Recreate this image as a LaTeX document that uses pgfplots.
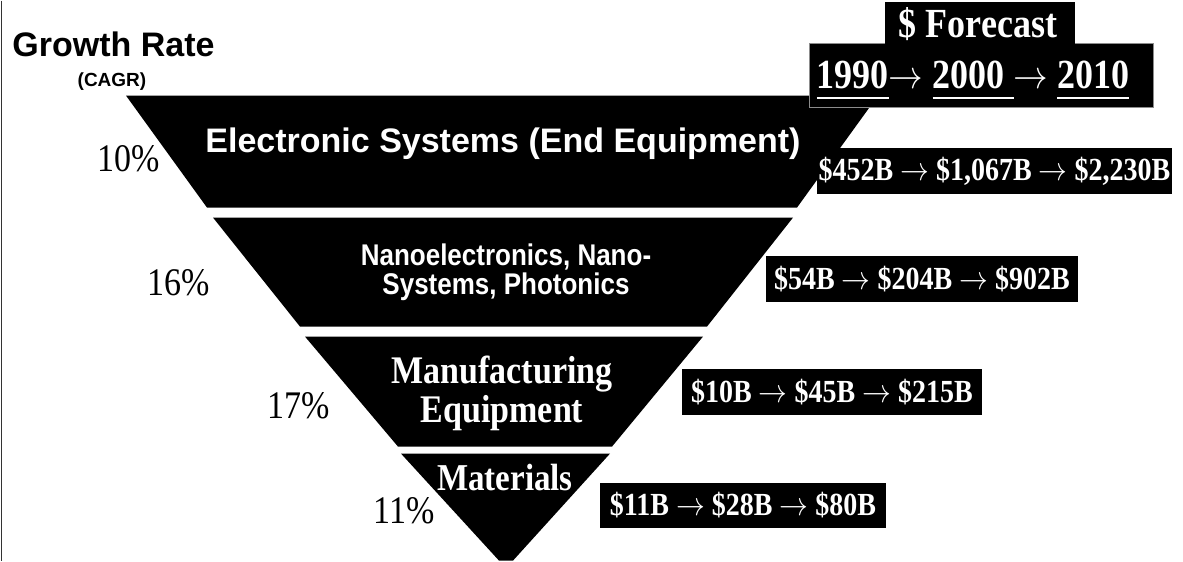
\documentclass[border=0pt]{standalone}
\usepackage{pgfplots}
\pgfplotsset{compat=1.18}
\usepackage{fontspec}
\setmainfont{Liberation Serif}
\newfontfamily\arial{Liberation Sans}
\newcommand\fs[1]{\fontsize{#1}{1.2\dimexpr#1\relax}\selectfont}
\newcommand\ul[1]{\setbox0=\hbox{#1}\rlap{\rule[-4.5pt]{\wd0}{0.9pt}}\box0}
\newcommand\tall[1]{\scalebox{1}[1.15]{#1}}
\begin{document}
\begin{tikzpicture}
\begin{axis}[
  scale only axis, width=591.5pt, height=280pt,
  xmin=0, xmax=1183, ymin=0, ymax=560, y dir=reverse,
  hide axis, clip=false]
\path (axis cs:0,0) rectangle (axis cs:1183,560);
% left border
\draw[black!80, line width=0.6pt] (axis cs:1.2,0) -- (axis cs:1.2,560);
% funnel levels
\addplot[fill=black, draw=none] coordinates {(126,95) (878,95) (797,207) (207,207)} --cycle;
\addplot[fill=black, draw=none] coordinates {(213,217) (793,217) (707,326) (300,326)} --cycle;
\addplot[fill=black, draw=none] coordinates {(305,336) (703,336) (612,446) (398,446)} --cycle;
\addplot[fill=black, draw=none] coordinates {(401,453) (610,453) (513,560) (499,560)} --cycle;
% header
\node[anchor=base west, inner sep=0] at (axis cs:12,56) {\arial\bfseries\fs{17pt}Growth Rate};
\node[anchor=base, inner sep=0] at (axis cs:112,86) {\arial\bfseries\fs{9.5pt}(CAGR)};
% growth rates
\node[anchor=base west, inner sep=0] at (axis cs:97,171) {\fs{17pt}\tall{10\%}};
\node[anchor=base west, inner sep=0] at (axis cs:147,295) {\fs{17pt}\tall{16\%}};
\node[anchor=base west, inner sep=0] at (axis cs:267,418) {\fs{17pt}\tall{17\%}};
\node[anchor=base west, inner sep=0] at (axis cs:373,523) {\fs{17pt}\tall{11\%}};
% level labels
\node[anchor=base, inner sep=0, text=white] at (axis cs:503,152) {\arial\bfseries\fs{17pt}Electronic Systems (End Equipment)};
\node[anchor=base, inner sep=0, text=white] at (axis cs:506,265) {\arial\bfseries\fs{13pt}\tall{Nanoelectronics, Nano-}};
\node[anchor=base, inner sep=0, text=white] at (axis cs:506,294) {\arial\bfseries\fs{13pt}\tall{Systems, Photonics}};
\node[anchor=base, inner sep=0, text=white] at (axis cs:502,383) {\bfseries\fs{17pt}\tall{Manufacturing}};
\node[anchor=base, inner sep=0, text=white] at (axis cs:502,422) {\bfseries\fs{17pt}\tall{Equipment}};
\node[anchor=base, inner sep=0, text=white] at (axis cs:505,490) {\bfseries\fs{16.5pt}\tall{Materials}};
% forecast header boxes
\filldraw[fill=black, draw=black!45, line width=0.5pt] (axis cs:809,43) rectangle (axis cs:1153,107);
\fill[black] (axis cs:885,1) rectangle (axis cs:1075,46);
\node[anchor=base, inner sep=0, text=white] at (axis cs:978,37) {\bfseries\fs{18pt}\tall{\$ Forecast}};
\node[anchor=base, inner sep=0, text=white] at (axis cs:973,88) {\bfseries\fs{18pt}\tall{\ul{1990}$\rightarrow$\ \ul{2000\ }$\rightarrow$\ \ul{2010}}};
% forecast value boxes
\fill[black] (axis cs:817,147) rectangle (axis cs:1172,193);
\node[anchor=base, inner sep=0, text=white] at (axis cs:994.5,180) {\bfseries\fs{14pt}\tall{\$452B $\rightarrow$ \$1,067B $\rightarrow$ \$2,230B}};
\fill[black] (axis cs:766,255) rectangle (axis cs:1078,301);
\node[anchor=base, inner sep=0, text=white] at (axis cs:922,288.5) {\bfseries\fs{14pt}\tall{\$54B $\rightarrow$ \$204B $\rightarrow$ \$902B}};
\fill[black] (axis cs:682,368) rectangle (axis cs:982,414);
\node[anchor=base, inner sep=0, text=white] at (axis cs:832,401.5) {\bfseries\fs{14pt}\tall{\$10B $\rightarrow$ \$45B $\rightarrow$ \$215B}};
\fill[black] (axis cs:600,482) rectangle (axis cs:886,527);
\node[anchor=base, inner sep=0, text=white] at (axis cs:743,515) {\bfseries\fs{14pt}\tall{\$11B $\rightarrow$ \$28B $\rightarrow$ \$80B}};
\end{axis}
\end{tikzpicture}
\end{document}
